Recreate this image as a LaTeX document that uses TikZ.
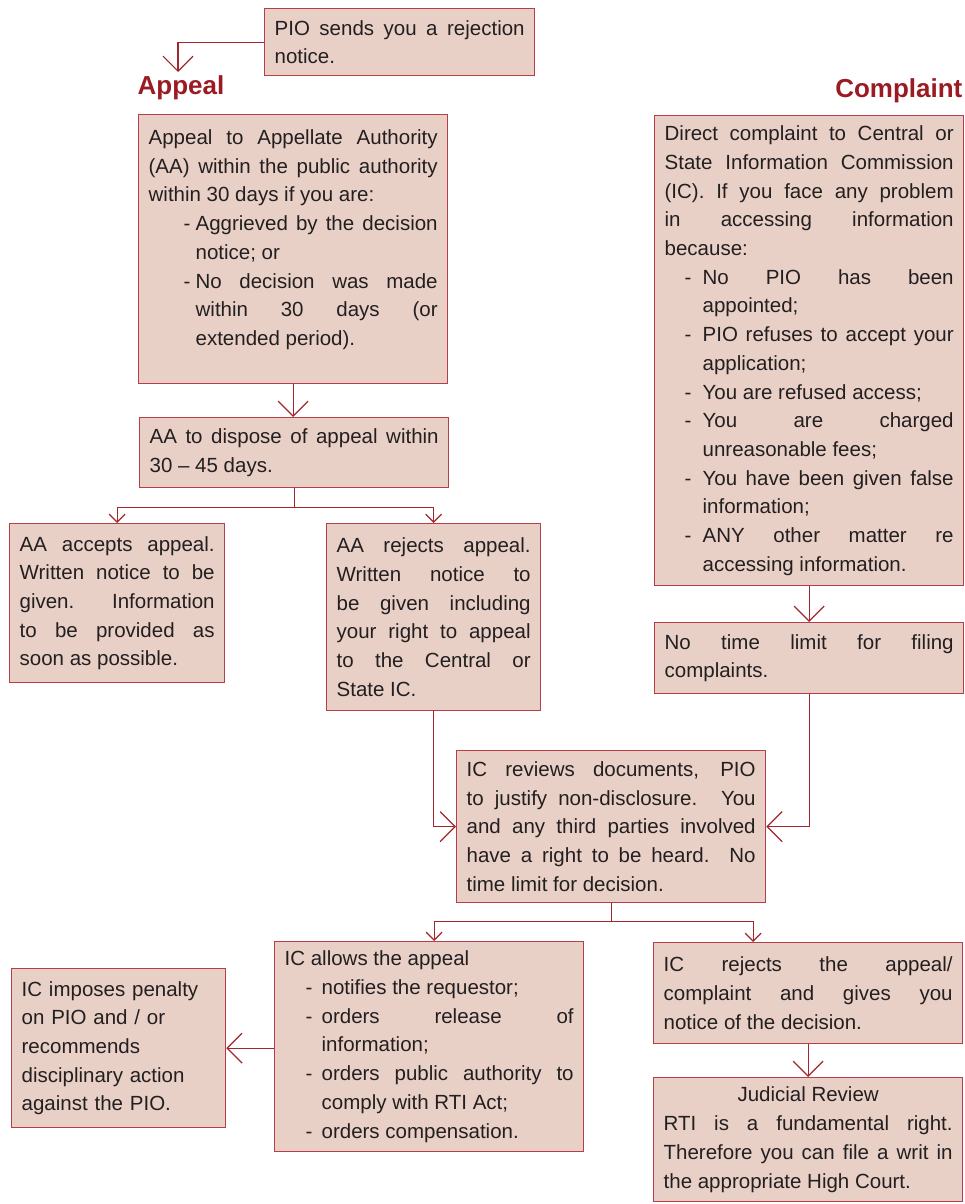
\documentclass[tikz,border=0pt]{standalone}
\usepackage{fontspec}
\setmainfont{Liberation Sans}
\usetikzlibrary{arrows.meta}
\definecolor{boxfill}{RGB}{233,208,199}
\definecolor{boxline}{RGB}{182,62,72}
\definecolor{linkred}{RGB}{163,38,46}
\definecolor{headred}{RGB}{155,27,35}
\definecolor{inktext}{RGB}{35,31,32}
\newcommand{\bodyfont}{\fontsize{20.5}{28.7}\selectfont}
\newcommand{\dashitem}[3]{\par\noindent\hangindent=#2\hangafter=1\makebox[#2][l]{\hspace*{#1}-}#3\par}
\tolerance=10000
\hbadness=10000
\hyphenpenalty=10000
\exhyphenpenalty=10000

\begin{document}
\begin{tikzpicture}[x=1pt, y=-1pt,
  every node/.style={draw=boxline, fill=boxfill, line width=1.3pt, anchor=north west, inner xsep=10pt, inner ysep=4pt, align=justify, font=\bodyfont, text=inktext},
  head/.style={draw=none, fill=none, inner sep=0pt, text=headred, font=\fontsize{26}{30}\selectfont\bfseries},
  link/.style={draw=linkred, line width=1.2pt},
  bigtip/.style={-{Straight Barb[length=15pt, width=30pt]}},
  smalltip/.style={-{Straight Barb[length=8pt, width=16pt]}}]
\useasboundingbox (0,0) rectangle (965,1204);
\node[text width=250pt, minimum height=67pt] (pio) at (264,8) {PIO sends you a rejection\linebreak notice.};
\node[head, anchor=base west] (appeallbl) at (137,95) {Appeal};
\node[head, anchor=base east] (complaintlbl) at (963,98) {Complaint};
\node[text width=289pt, minimum height=269pt] (appealbox) at (138,114) {Appeal to Appellate Authority\linebreak (AA) within the public authority\linebreak within 30 days if you are:
\dashitem{35pt}{47pt}{Aggrieved by the decision\linebreak notice; or}
\dashitem{35pt}{47pt}{No decision was made\linebreak within 30 days (or\linebreak extended period).}
\vspace{19pt}\hrule height 0pt};
\node[text width=289pt, minimum height=70pt] (dispose) at (139,417) {AA to dispose of appeal within\linebreak 30 -- 45 days.};
\node[text width=195pt, minimum height=159pt] (accept) at (9,523) {AA accepts appeal.\linebreak Written notice to be\linebreak given. Information\linebreak to be provided as\linebreak soon as possible.};
\node[text width=194pt, minimum height=187pt] (reject) at (326,523) {AA rejects appeal.\linebreak Written notice to\linebreak be given including\linebreak your right to appeal\linebreak to the Central or\linebreak State IC.};
\node[text width=289pt, minimum height=470pt] (complaint) at (654,115) {Direct complaint to Central or\linebreak State Information Commission\linebreak (IC). If you face any problem\linebreak in accessing information\linebreak because:
\dashitem{20pt}{38pt}{No PIO has been\linebreak appointed;}
\dashitem{20pt}{38pt}{PIO refuses to accept your\linebreak application;}
\dashitem{20pt}{38pt}{You are refused access;}
\dashitem{20pt}{38pt}{You are charged\linebreak unreasonable fees;}
\dashitem{20pt}{38pt}{You have been given false\linebreak information;}
\dashitem{20pt}{38pt}{ANY other matter re\linebreak accessing information.}};
\node[text width=289pt, minimum height=71pt] (nolimit) at (654,622) {No time limit for filing\linebreak complaints.};
\node[text width=289pt, minimum height=152pt] (review) at (456,750) {IC reviews documents, PIO\linebreak to justify non-disclosure. You\linebreak and any third parties involved\linebreak have a right to be heard. No\linebreak time limit for decision.};
\node[text width=289pt, minimum height=210pt] (allows) at (274,941) {IC allows the appeal
\dashitem{21pt}{37pt}{notifies the requestor;}
\dashitem{21pt}{37pt}{orders release of\linebreak information;}
\dashitem{21pt}{37pt}{orders public authority to\linebreak comply with RTI Act;}
\dashitem{21pt}{37pt}{orders compensation.}};
\node[text width=194pt, minimum height=159pt, align=left] (imposes) at (11,968) {IC imposes penalty\\on PIO and / or\\recommends\\disciplinary action\\against the PIO.};
\node[text width=289pt, minimum height=101pt] (icreject) at (653,942) {IC rejects the appeal/\linebreak complaint and gives you\linebreak notice of the decision.};
\node[text width=289pt, minimum height=124pt] (judicial) at (653,1077) {{\centering Judicial Review\par}RTI is a fundamental right.\linebreak Therefore you can file a writ in\linebreak the appropriate High Court.};
\coordinate (appealtip) at (178,72);
\draw[link, bigtip] (pio.west) -| (appealtip);
\draw[link, bigtip] (appealbox.south) -- (appealbox.south |- dispose.north);
\draw[link] (dispose.south) -- ++(0,19) coordinate (aasplit);
\draw[link, smalltip] (aasplit) -| (accept.north);
\draw[link, smalltip] (aasplit) -| (reject.north);
\draw[link, bigtip] (reject.south) |- (review.west);
\draw[link, bigtip] (complaint.south) -- (nolimit.north);
\draw[link, bigtip] (nolimit.south) |- (review.east);
\draw[link] (review.south) -- ++(0,18) coordinate (icsplit);
\draw[link, smalltip] (icsplit) -| ([xshift=5pt]allows.north);
\draw[link, smalltip] (icsplit) -| ([xshift=-55pt]icreject.north);
\draw[link, bigtip] (allows.west |- imposes.east) -- (imposes.east);
\draw[link, bigtip] (icreject.south) -- (judicial.north);
\end{tikzpicture}
\end{document}
